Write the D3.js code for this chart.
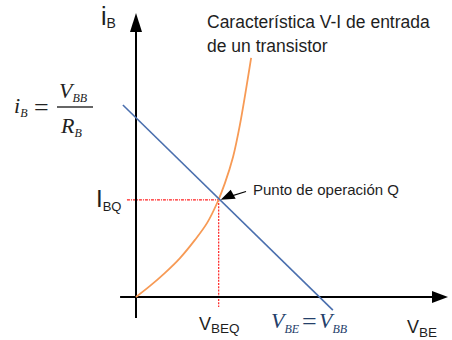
<!DOCTYPE html>
<html><head><meta charset="utf-8">
<script src="https://cdn.jsdelivr.net/npm/d3@7/dist/d3.min.js"></script>
<style>
html,body{margin:0;padding:0;background:#fff;}
svg{display:block;font-family:"Liberation Sans",Arial,sans-serif;}
</style></head>
<body>
<svg id="c" width="452" height="340"></svg>
<script>
// Input characteristic (orange curve): VBE vs iB, arbitrary units
const curveV = [0, 0.45, 0.93, 1.41, 1.89, 2.28, 2.60, 2.85, 3.11, 3.33, 3.69];
const curveI = [0, 0.39, 0.85, 1.37, 2.01, 2.61, 3.31, 4.01, 4.93, 6.06, 8.42];
// Load line (blue) end points
const loadV = [-0.42, 6.31];
const loadI = [6.76, -0.46];
// Operating point Q
const qPoint = [2.65, 3.42];
// Axis extents
const xAxisExt = [-0.51, 10];
const yAxisExt = [-0.74, 10];
const titleLines = ["Característica V-I de entrada", "de un transistor"];
const qLabel = "Punto de operación Q";

const svg = d3.select("#c");
const x = d3.scaleLinear().domain([0, 10]).range([136, 448]);
const y = d3.scaleLinear().domain([0, 10]).range([297, 13]);

// Red dotted guides
svg.append("line").attr("x1", x(-0.29)).attr("x2", x(qPoint[0])).attr("y1", y(qPoint[1])).attr("y2", y(qPoint[1]))
  .attr("stroke", "#ff2020").attr("stroke-width", 1.2).attr("stroke-dasharray", "3,1,1,1");
svg.append("line").attr("x1", x(qPoint[0])).attr("x2", x(qPoint[0])).attr("y1", y(qPoint[1])).attr("y2", y(-0.35))
  .attr("stroke", "#ff2020").attr("stroke-width", 1.2).attr("stroke-dasharray", "2,1.2");

// Axes
const ax = "#000";
svg.append("line").attr("x1", x(xAxisExt[0])).attr("x2", x(xAxisExt[1]) - 14).attr("y1", y(0)).attr("y2", y(0))
  .attr("stroke", ax).attr("stroke-width", 2);
svg.append("path").attr("d", `M${x(xAxisExt[1])},${y(0)} L${x(xAxisExt[1]) - 16},${y(0) - 6} L${x(xAxisExt[1]) - 16},${y(0) + 6}Z`).attr("fill", ax);
svg.append("line").attr("x1", x(0)).attr("x2", x(0)).attr("y1", y(yAxisExt[0])).attr("y2", y(yAxisExt[1]) + 16)
  .attr("stroke", ax).attr("stroke-width", 2);
svg.append("path").attr("d", `M${x(0)},${y(yAxisExt[1])} L${x(0) - 6},${y(yAxisExt[1]) + 19} L${x(0) + 6},${y(yAxisExt[1]) + 19}Z`).attr("fill", ax);

// Orange curve
const pts = curveV.map((v, i) => [v, curveI[i]]);
svg.append("path").datum(pts)
  .attr("d", d3.line().x(d => x(d[0])).y(d => y(d[1])).curve(d3.curveCatmullRom.alpha(0.5)))
  .attr("fill", "none").attr("stroke", "#f79a55").attr("stroke-width", 1.8);

// Blue load line
svg.append("line").attr("x1", x(loadV[0])).attr("y1", y(loadI[0])).attr("x2", x(loadV[1])).attr("y2", y(loadI[1]))
  .attr("stroke", "#4a6fae").attr("stroke-width", 1.6);

// Arrow to Q
const qx = x(qPoint[0]) + 2, qy = y(qPoint[1]);
svg.append("line").attr("x1", 246).attr("y1", 191.5).attr("x2", qx + 8).attr("y2", qy - 3)
  .attr("stroke", "#000").attr("stroke-width", 1.2);
svg.append("path").attr("d", `M${qx},${qy} L${qx + 10},${qy - 10} L${qx + 15},${qy - 1}Z`).attr("fill", "#000");

// Title text
const tcol = "#1e1e1e";
titleLines.forEach((t, i) => {
  svg.append("text").attr("x", 207).attr("y", 28 + i * 24).attr("font-size", 17.5).attr("fill", tcol).text(t);
});
svg.append("text").attr("x", 253).attr("y", 195).attr("font-size", 15).attr("fill", tcol).text(qLabel);

function subText(xp, yp, main, sub, fs, ss, dy, col) {
  const t = svg.append("text").attr("x", xp).attr("y", yp).attr("fill", col || tcol);
  t.append("tspan").attr("font-size", fs).text(main);
  t.append("tspan").attr("font-size", ss).attr("dy", dy).text(sub);
  return t;
}
subText(101, 25, "i", "B", 25, 14, 3);
subText(96, 207, "I", "BQ", 24, 13, 4);
subText(199, 330, "V", "BEQ", 18, 13.5, 3);
subText(407, 333, "V", "BE", 18, 13.5, 4);

// Formula iB = VBB / RB (serif italic)
const serif = "'Liberation Serif','Times New Roman',serif";
function serifSub(xp, yp, main, sub, fs, ss, dy, col) {
  const t = svg.append("text").attr("x", xp).attr("y", yp).attr("fill", col)
    .attr("font-family", serif).attr("font-style", "italic");
  t.append("tspan").attr("font-size", fs).text(main);
  t.append("tspan").attr("font-size", ss).attr("dy", dy).text(sub);
  return t;
}
const fcol = "#222";
serifSub(14, 113, "i", "B", 22, 12, 4, fcol);
svg.append("text").attr("x", 34).attr("y", 116).attr("font-family", serif).attr("font-size", 26).attr("fill", fcol).text("=");
svg.append("line").attr("x1", 57).attr("x2", 93).attr("y1", 107).attr("y2", 107).attr("stroke", "#333").attr("stroke-width", 1.3);
serifSub(59, 98, "V", "BB", 22, 12, 4, fcol);
serifSub(61, 133, "R", "B", 22, 12, 4, fcol);

// VBE = VBB
const bcol = "#24406a";
serifSub(271, 328, "V", "BE", 22, 12, 5, bcol);
svg.append("text").attr("x", 302).attr("y", 330).attr("font-family", serif).attr("font-size", 26).attr("fill", bcol).text("=");
serifSub(319, 328, "V", "BB", 22, 12, 5, bcol);
</script>
</body></html>
